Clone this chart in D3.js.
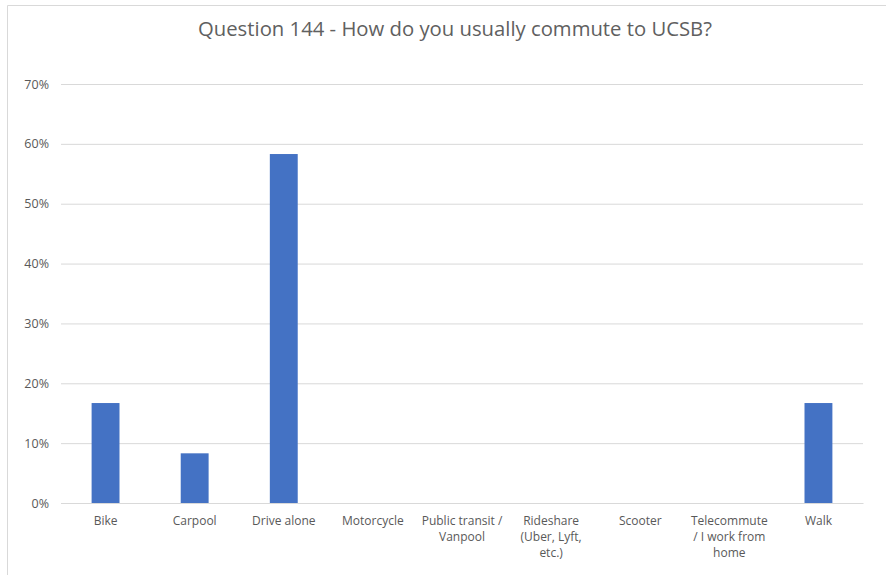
<!DOCTYPE html>
<html>
<head>
<meta charset="utf-8">
<script src="https://cdn.jsdelivr.net/npm/d3@7"></script>
<style>
  html, body { margin: 0; padding: 0; background: #fff; }
  svg { display: block; }
  text { font-family: "Open Sans", "Noto Sans", sans-serif; fill: #595959; }
</style>
</head>
<body>
<svg id="chart" width="886" height="575"></svg>
<script>
const titleText = "Question 144 - How do you usually commute to UCSB?";
const categories = [
  ["Bike"],
  ["Carpool"],
  ["Drive alone"],
  ["Motorcycle"],
  ["Public transit /", "Vanpool"],
  ["Rideshare", "(Uber, Lyft,", "etc.)"],
  ["Scooter"],
  ["Telecommute", "/ I work from", "home"],
  ["Walk"]
];
const values = [0.167, 0.083, 0.583, 0, 0, 0, 0, 0, 0.167];
const yTicks = [0, 0.1, 0.2, 0.3, 0.4, 0.5, 0.6, 0.7];

const svg = d3.select("#chart");

// outer border (top and left visible)
svg.append("line").attr("x1", 7.5).attr("x2", 886).attr("y1", 5.5).attr("y2", 5.5)
  .attr("stroke", "#d9d9d9").attr("stroke-width", 1);
svg.append("line").attr("x1", 7.5).attr("x2", 7.5).attr("y1", 5.5).attr("y2", 575)
  .attr("stroke", "#d9d9d9").attr("stroke-width", 1);

const x = d3.scaleBand()
  .domain(categories.map((d, i) => i))
  .range([61, 863])
  .paddingInner(0.687)
  .paddingOuter(0.3435);

const y = d3.scaleLinear().domain([0, 0.7]).range([503, 84]);

// gridlines
const grid = svg.append("g")
  .attr("transform", "translate(61,0)")
  .call(d3.axisLeft(y).tickValues(yTicks).tickSize(-(863 - 61)).tickFormat(""));
grid.select(".domain").remove();
grid.selectAll(".tick line").attr("stroke", "#d9d9d9").attr("stroke-width", 1);

// y labels
const yAxis = svg.append("g")
  .attr("transform", "translate(61,0)")
  .call(d3.axisLeft(y).tickValues(yTicks).tickSize(0).tickPadding(12).tickFormat(d3.format(".0%")));
yAxis.select(".domain").remove();
yAxis.selectAll("text").style("font-size", "12.5px").style("fill", "#595959")
  .style("font-family", "'Open Sans', sans-serif");

// bars
svg.append("g").selectAll("rect").data(values).join("rect")
  .attr("x", (d, i) => x(i))
  .attr("width", x.bandwidth())
  .attr("y", d => y(d))
  .attr("height", d => y(0) - y(d))
  .attr("fill", "#4472c4");

// x axis baseline
const xAxis = svg.append("g")
  .attr("transform", "translate(0,503)")
  .call(d3.axisBottom(x).tickSize(0).tickFormat(""));
xAxis.select(".domain").attr("stroke", "#d9d9d9");

// category labels
const lab = svg.append("g").selectAll("text").data(categories).join("text")
  .attr("text-anchor", "middle")
  .attr("x", (d, i) => x(i) + x.bandwidth() / 2)
  .attr("y", 525)
  .style("font-size", "12px");
lab.selectAll("tspan").data(d => d).join("tspan")
  .attr("x", function() { return d3.select(this.parentNode).attr("x"); })
  .attr("dy", (d, i) => i === 0 ? 0 : 16)
  .text(d => d);

// title
svg.append("text")
  .attr("x", 455).attr("y", 36)
  .attr("text-anchor", "middle")
  .style("font-size", "20.3px")
  .style("fill", "#606060")
  .text(titleText);
</script>
</body>
</html>
